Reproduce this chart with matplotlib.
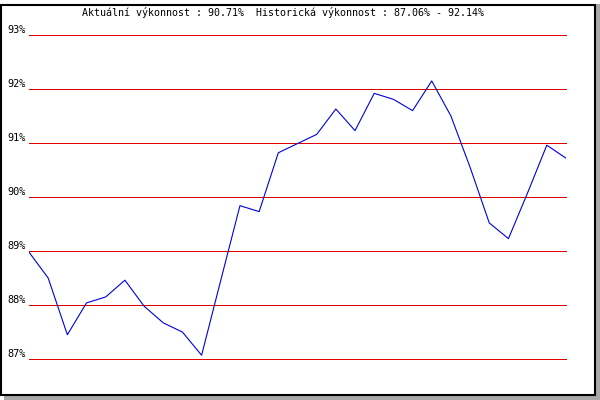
import matplotlib.pyplot as plt
from matplotlib.patches import Rectangle

# values (one per day, 29 points)
performance = [88.97, 88.49, 87.44, 88.03, 88.14, 88.45, 87.97, 87.66, 87.49, 87.06,
               88.45, 89.83, 89.72, 90.81, 90.98, 91.15, 91.62, 91.22, 91.91, 91.80,
               91.59, 92.14, 91.49, 90.54, 89.51, 89.22, 90.07, 90.95, 90.71]
y_ticks = [87, 88, 89, 90, 91, 92, 93]
title = "Aktuální výkonnost : 90.71%  Historická výkonnost : 87.06% - 92.14%"

W, H = 600, 400
fig = plt.figure(figsize=(6, 4), dpi=100)
fig.patch.set_facecolor('white')

# shadow + black framed panel (behind the axes)
fig.patches.append(Rectangle((4 / W, 0), 596 / W, 396 / H, transform=fig.transFigure,
                             facecolor='#a8a8a8', edgecolor='none', zorder=-2))
fig.patches.append(Rectangle((1 / W, 5 / H), 594 / W, 390 / H, transform=fig.transFigure,
                             facecolor='white', edgecolor='black', linewidth=1.5, zorder=-1))

# plot area (gridlines land on pixel centres, 54 px apart)
ax = fig.add_axes([29 / W, 1 - 358.5 / H, (566 - 29) / W, (358.5 - 34.5) / H])
ax.set_facecolor('none')
ax.set_xlim(0, len(performance) - 1)
ax.set_ylim(87, 93)
for s in ax.spines.values():
    s.set_visible(False)
ax.set_xticks([])
ax.set_yticks([])

for v in y_ticks:
    ax.axhline(v, color='#e00000', linewidth=0.72, clip_on=False, zorder=1, antialiased=False)
    ax.annotate(f"{v}%", xy=(0, v), xycoords=('axes fraction', 'data'),
                xytext=(-3, 1.5), textcoords='offset pixels',
                ha='right', va='baseline', family='DejaVu Sans Mono', fontsize=7.4)

ax.plot(range(len(performance)), performance, color='#0000e0', linewidth=0.8, zorder=2)

fig.text(82 / W, 1 - 12.5 / H, title, ha='left', va='center',
         family='DejaVu Sans Mono', fontsize=7.2)

fig.savefig('out.png', dpi=100)
